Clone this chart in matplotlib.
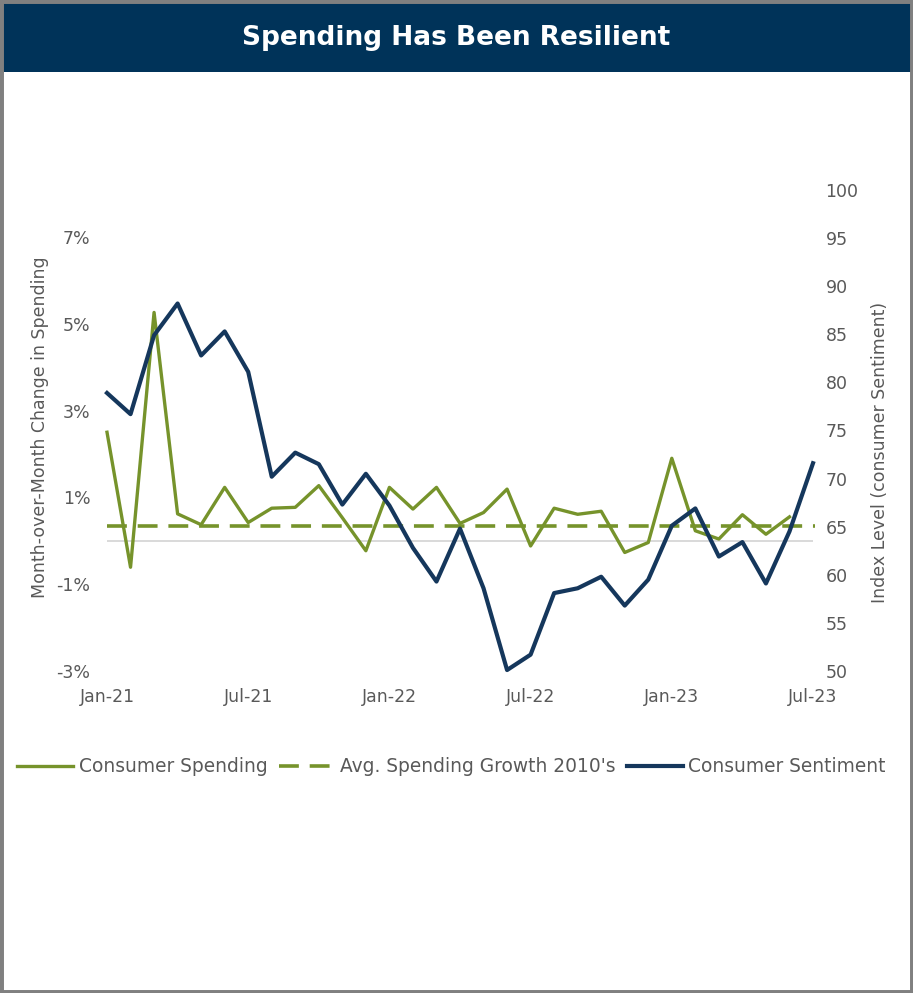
import matplotlib
matplotlib.use('Agg')
import matplotlib.pyplot as plt
from matplotlib.patches import Rectangle

# month index 0 = Jan-21
spending = [2.50, -0.61, 5.26, 0.62, 0.37, 1.23, 0.42, 0.75, 0.77, 1.27,
            0.53, -0.23, 1.23, 0.73, 1.23, 0.40, 0.65, 1.19, -0.12, 0.75,
            0.61, 0.68, -0.27, -0.04, 1.90, 0.23, 0.04, 0.60, 0.15, 0.55]
sentiment = [78.9, 76.7, 84.9, 88.2, 82.8, 85.3, 81.1, 70.2, 72.7, 71.5,
             67.3, 70.5, 67.2, 62.8, 59.3, 64.8, 58.6, 50.1, 51.7, 58.1,
             58.6, 59.8, 56.8, 59.5, 65.1, 66.9, 61.9, 63.4, 59.1, 64.5, 71.6]
avg_growth = 0.33
tick_months = [0, 6, 12, 18, 24, 30]
tick_labels = ['Jan-21', 'Jul-21', 'Jan-22', 'Jul-22', 'Jan-23', 'Jul-23']
left_ticks = [-3, -1, 1, 3, 5, 7]
right_ticks = list(range(50, 101, 5))

green = '#76932b'
navy = '#15375c'
grey_txt = '#595959'

W, H = 913, 993
fig = plt.figure(figsize=(W / 100, H / 100), dpi=100)

# title banner
fig.patches.append(Rectangle((0, 1 - 72 / H), 1, 72 / H, transform=fig.transFigure,
                             facecolor='#003359', edgecolor='none', zorder=0))
fig.text(0.5, 1 - 38 / H, 'Spending Has Been Resilient', color='white',
         fontsize=19, fontweight='bold', ha='center', va='center')

ax = fig.add_axes([107 / W, 1 - 671 / H, (813 - 107) / W, (671 - 190) / H])
ax2 = ax.twinx()  # sentiment drawn on top

x_sp = list(range(len(spending)))
x_se = list(range(len(sentiment)))

ax.plot([0, 30], [0, 0], color='#d3d3d3', lw=1.2, zorder=1)
ax.plot(x_sp, spending, color=green, lw=2.4, zorder=3, label='Consumer Spending')
ax.plot([0, 30.1], [avg_growth, avg_growth], color=green, lw=2.6, dashes=(5.5, 3.0),
        zorder=3, label="Avg. Spending Growth 2010's")
ax2.plot(x_se, sentiment, color=navy, lw=3.0, zorder=2, label='Consumer Sentiment')

ax.set_xlim(0, 30)
ax.set_ylim(-3, 8.08)
ax2.set_ylim(50, 100)
ax.set_xticks(tick_months)
ax.set_xticklabels(tick_labels)
ax.set_yticks(left_ticks)
ax.set_yticklabels(['{}%'.format(v) for v in left_ticks])
ax2.set_yticks(right_ticks)

for a in (ax, ax2):
    for s in a.spines.values():
        s.set_visible(False)
    a.tick_params(length=0, labelsize=12.5, labelcolor=grey_txt)
ax.tick_params(axis='y', pad=12)
ax.tick_params(axis='x', pad=12)
ax2.tick_params(axis='y', pad=9)
ax.lines[1].set_clip_on(False)
ax.lines[2].set_clip_on(False)
ax2.lines[0].set_clip_on(False)

fig.text(40 / W, 1 - 427 / H, 'Month-over-Month Change in Spending', rotation=90,
         ha='center', va='center', fontsize=12.5, color=grey_txt)
fig.text(880 / W, 1 - 452 / H, 'Index Level (consumer Sentiment)', rotation=90,
         ha='center', va='center', fontsize=12.5, color=grey_txt)

h1, l1 = ax.get_legend_handles_labels()
h2, l2 = ax2.get_legend_handles_labels()
leg = fig.legend(h1 + h2, l1 + l2, loc='center', bbox_to_anchor=(0.4945, 1 - 767 / H),
                 ncol=3, frameon=False, fontsize=13.4, handlelength=3.0,
                 handletextpad=0.3, columnspacing=0.6)
for t in leg.get_texts():
    t.set_color(grey_txt)

# outer grey border
fig.patches.append(Rectangle((0, 0), 1, 1, transform=fig.transFigure, fill=False,
                             edgecolor='#808080', lw=5, zorder=10))

fig.savefig('out.png', dpi=100)
